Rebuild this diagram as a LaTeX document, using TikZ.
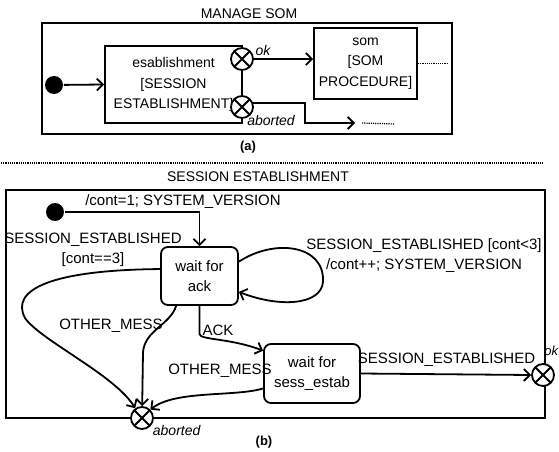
\documentclass[tikz,border=0pt]{standalone}
\usepackage{fontspec}
\setmainfont{Liberation Sans}
\usetikzlibrary{arrows.meta}

\begin{document}
\begin{tikzpicture}[x=1pt, y=-1pt, line width=1.8pt,
  >={Straight Barb[length=6pt,width=12pt]},
  txt/.style={font=\fontsize{15}{20}\selectfont, inner sep=0pt, align=center},
  txtA/.style={font=\fontsize{14}{20.5}\selectfont, inner sep=0pt, align=center},
  ttl/.style={font=\fontsize{14}{16}\selectfont, inner sep=0pt},
  sublbl/.style={font=\fontsize{13}{15}\selectfont\bfseries, inner sep=0pt},
  exitlbl/.style={font=\fontsize{14}{16}\selectfont\itshape, inner sep=0pt},
  initdot/.style={circle, fill, minimum size=18pt, inner sep=0pt},
  exitpt/.style={draw, circle, fill=white, minimum size=22pt, inner sep=0pt,
    path picture={\draw (path picture bounding box.north west) -- (path picture bounding box.south east)
      (path picture bounding box.north east) -- (path picture bounding box.south west);}},
  block/.style={draw, rectangle, txtA},
  state/.style={draw, rounded corners=7pt, txt},
  trail/.style={line width=1.2pt, densely dotted}]
  \useasboundingbox (0,0) rectangle (559,452);

  % (a) manage som
  \node[ttl] (manage) at (249,14) {MANAGE SOM};
  \draw (42,23) rectangle (452,134);
  \node[initdot] (dotA) at (54,85) {};
  \node[block, minimum width=137pt, minimum height=77pt] (estab) at (173.5,84.5)
    {esablishment\\{[}SESSION\\ESTABLISHMENT{]}};
  \node[block, minimum width=103pt, minimum height=71pt] (som) at (365.5,63.5)
    {som\\{[}SOM\\PROCEDURE{]}};
  \node[exitpt] (okA) at (242,59) {};
  \node[exitpt] (abA) at (242,107) {};
  \node[exitlbl] (okAl) at (263,50) {ok};
  \node[exitlbl] (abAl) at (271,120) {aborted};

  \draw[->] (dotA) -- (estab.west);
  \draw[->] (okA.east) -- (okA -| som.west);
  \coordinate (somEnd) at (447,63.5);
  \draw[trail] (som.east) -- (somEnd);
  \coordinate (abKnee) at (305,123);
  \coordinate (abEnd) at (355,123);
  \coordinate (abDots) at (395,124);
  \draw[->] (abA.20) -| (abKnee) -- (abEnd);
  \draw[trail] ([xshift=7pt]abEnd) -- (abDots);
  \node[sublbl] (subA) at (248,147) {(a)};

  \coordinate (sepL) at (1,163);
  \coordinate (sepR) at (543,163);
  \draw[trail] (sepL) -- (sepR);

  % (b) session establishment
  \node[ttl] (sesstitle) at (258,177) {SESSION ESTABLISHMENT};
  \draw (6,190) rectangle (545,418);
  \node[initdot] (dotB) at (55,212) {};
  \node[state, minimum width=77pt, minimum height=58pt] (waitack) at (199.5,276) {wait for\\ack};
  \node[state, minimum width=96pt, minimum height=59pt] (waitsess) at (312,373.5) {wait for\\sess\_estab};
  \node[exitpt] (okB) at (543,375) {};
  \node[exitpt] (abB) at (142,418) {};
  \node[exitlbl, anchor=east, font=\fontsize{13}{15}\selectfont\itshape] (okBl) at (559,351) {ok};
  \node[exitlbl, anchor=west] (abBl) at (152,430) {aborted};

  \draw[->] (dotB) -| (waitack);
  \node[txt] (initl) at (183,202) {/cont=1; SYSTEM\_VERSION};

  \draw[->] (waitack.170) .. controls (50,270) and (10,290) .. (25,318)
    .. controls (40,340) and (115,375) .. (abB.125);
  \node[txt] (donel) at (93,249.5) {SESSION\_ESTABLISHED\\{[}cont==3{]}};

  \draw[->] (waitack.20) .. controls (275,238) and (325,245) .. (323,282)
    .. controls (321,305) and (280,308) .. (waitack.-22);
  \node[txt] (loopl) at (424,256) {SESSION\_ESTABLISHED {[}cont<3{]}\\/cont++; SYSTEM\_VERSION};

  \draw[->] (waitack.south) -- (waitack.south |- 0,334)
    .. controls (199.5,340) and (230,338) .. (waitsess.155);
  \node[txt] (ackl) at (218,330) {ACK};

  \draw[->] (waitack.-128) .. controls (170,325) and (145,330) .. (143,352) -- (abB);
  \node[txt] (othAl) at (111,326) {OTHER\_MESS};

  \draw[->] (waitsess.197) .. controls (235,397) and (175,390) .. (abB.45);
  \node[txt] (othBl) at (220,371) {OTHER\_MESS};

  \draw[->] (waitsess.east) -- (okB.west);
  \node[txt] (estl) at (446.5,360) {SESSION\_ESTABLISHED};
  \node[sublbl] (subB) at (264,442) {(b)};
\end{tikzpicture}
\end{document}
